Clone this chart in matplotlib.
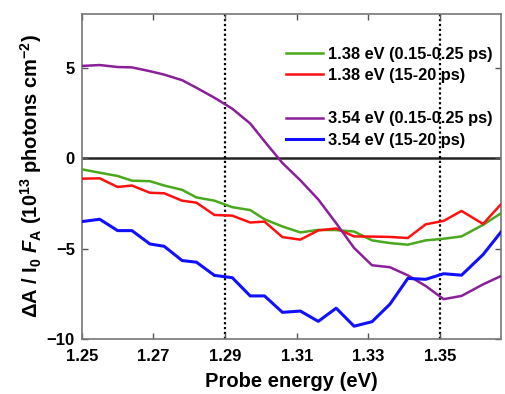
import matplotlib.pyplot as plt
from matplotlib.lines import Line2D

plt.rcParams['font.family'] = ['Liberation Sans', 'DejaVu Sans']
plt.rcParams['font.weight'] = 'bold'
plt.rcParams['mathtext.fontset'] = 'custom'
plt.rcParams['mathtext.rm'] = 'Liberation Sans:bold'
plt.rcParams['mathtext.it'] = 'Liberation Sans:italic:bold'
plt.rcParams['mathtext.bf'] = 'Liberation Sans:bold'

# probe energies (eV)
energy = [1.250, 1.255, 1.260, 1.264, 1.269, 1.273, 1.278, 1.282, 1.287,
          1.292, 1.297, 1.301, 1.306, 1.311, 1.316, 1.321, 1.326, 1.331,
          1.336, 1.341, 1.346, 1.351, 1.356, 1.362, 1.367]

green_138_early = [-0.60, -0.79, -0.97, -1.23, -1.26, -1.50, -1.74, -2.16, -2.34,
                   -2.70, -2.86, -3.37, -3.77, -4.10, -3.96, -3.97, -4.05, -4.54,
                   -4.69, -4.78, -4.54, -4.45, -4.32, -3.68, -3.04]
red_138_late = [-1.12, -1.10, -1.58, -1.50, -1.90, -1.93, -2.34, -2.45, -3.13,
                -3.17, -3.55, -3.50, -4.36, -4.50, -3.99, -3.88, -4.32, -4.33,
                -4.35, -4.41, -3.65, -3.46, -2.91, -3.63, -2.54]
purple_354_early = [5.13, 5.18, 5.07, 5.05, 4.84, 4.65, 4.34, 3.92, 3.37,
                    2.76, 1.94, 0.95, -0.25, -1.21, -2.27, -3.59, -4.96, -5.92,
                    -6.03, -6.48, -7.07, -7.80, -7.62, -6.98, -6.52]
blue_354_late = [-3.50, -3.37, -4.00, -4.00, -4.74, -4.87, -5.66, -5.75, -6.48,
                 -6.61, -7.62, -7.62, -8.53, -8.46, -9.03, -8.30, -9.30, -9.05,
                 -8.08, -6.65, -6.70, -6.39, -6.47, -5.33, -4.08]

labels = ['1.38 eV (0.15-0.25 ps)', '1.38 eV (15-20 ps)',
          '3.54 eV (0.15-0.25 ps)', '3.54 eV (15-20 ps)']
colors = ['#4aa81c', '#ff1010', '#8a1f9a', '#1010ff']
guide_lines = [1.29, 1.35]

fig = plt.figure(figsize=(5.05, 3.94), dpi=100)
ax = fig.add_axes([0.162, 0.14, 0.83, 0.824])

ax.axhline(0, color='#222222', lw=1.8, zorder=1)
for g in guide_lines:
    ax.axvline(g, color='black', lw=1.6, ls=(0, (1, 1.2)), zorder=1)

series = [green_138_early, red_138_late, purple_354_early, blue_354_late]
handles = []
for vals, lab, c in zip(series, labels, colors):
    lw = 2.2 if c == '#1010ff' else 1.8
    h, = ax.plot(energy, vals, color=c, lw=lw, label=lab, zorder=3)
    handles.append(h)

blank = Line2D([], [], color='none', label=' ')
leg = ax.legend(handles[:2] + [blank] + handles[2:],
                labels[:2] + [' '] + labels[2:],
                loc='upper right', frameon=False, fontsize=11.8,
                handlelength=2.25, handletextpad=0.3, labelspacing=0.4,
                borderaxespad=0, borderpad=0, bbox_to_anchor=(0.979, 0.9))

ax.set_xlim(1.25, 1.367)
ax.set_ylim(-10, 8)
ax.set_xticks([1.25, 1.27, 1.29, 1.31, 1.33, 1.35])
ax.set_xticklabels(['1.25', '1.27', '1.29', '1.31', '1.33', '1.35'])
ax.set_yticks([-10, -5, 0, 5])
ax.tick_params(direction='in', top=True, right=True, labelsize=12,
               length=4, width=1, color='#555555')
ax.tick_params(axis='x', pad=7)
ax.tick_params(axis='y', pad=5)
for s in ax.spines.values():
    s.set_color('#777777')
    s.set_linewidth(1.2)

ax.set_xlabel('Probe energy (eV)', fontsize=14.5, fontweight='bold', labelpad=6)
ax.set_ylabel(r'$\Delta$A / I$_0$ $\mathit{F}_\mathrm{A}$ (10$^{13}$ photons cm$^{-2}$)',
              fontsize=14.5, fontweight='bold', labelpad=2)

fig.savefig('out.png', dpi=100)
